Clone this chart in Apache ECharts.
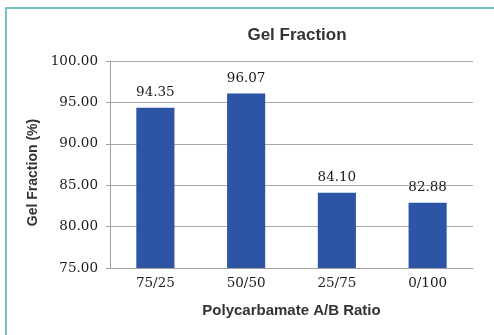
<!DOCTYPE html>
<html>
<head>
<meta charset="utf-8">
<script src="https://cdn.jsdelivr.net/npm/echarts@6/dist/echarts.min.js"></script>
<style>
  html, body { margin: 0; padding: 0; background: #fff; }
  #chart { width: 494px; height: 335px; }
</style>
</head>
<body>
<div id="chart"></div>
<script>
// Gel fraction by polycarbamate blend ratio
const ratios = ['75/25', '50/50', '25/75', '0/100'];
const gelFraction = [94.35, 96.07, 84.10, 82.88];

const serif = 'DejaVu Serif';
const sans = 'Liberation Sans';

const chart = echarts.init(document.getElementById('chart'), null, { renderer: 'canvas' });
chart.setOption({
  animation: false,
  backgroundColor: '#ffffff',
  title: {
    text: 'Gel Fraction',
    left: 292,
    textAlign: 'center',
    top: 22,
    textStyle: { fontFamily: sans, fontWeight: 'bold', fontSize: 17, color: '#333333' }
  },
  graphic: [{
    type: 'rect',
    shape: { x: 6, y: 8, width: 600, height: 400 },
    style: { fill: 'none', stroke: '#74C2C2', lineWidth: 2 },
    silent: true
  }],
  grid: { left: 110, right: 21, top: 61, bottom: 67 },
  xAxis: {
    type: 'category',
    data: ratios,
    name: 'Polycarbamate A/B Ratio',
    nameLocation: 'middle',
    nameGap: 35,
    nameTextStyle: { fontFamily: sans, fontWeight: 'bold', fontSize: 15, color: '#333333' },
    axisLine: { lineStyle: { color: '#A0A0A0', width: 1 } },
    axisTick: { show: false },
    axisLabel: { margin: 8, fontFamily: serif, fontSize: 13.5, color: '#1a1a1a' }
  },
  yAxis: {
    type: 'value',
    min: 75,
    max: 100,
    interval: 5,
    name: 'Gel Fraction (%)',
    nameLocation: 'middle',
    nameGap: 64,
    nameTextStyle: { fontFamily: sans, fontWeight: 'bold', fontSize: 14, color: '#333333', padding: [0, 16, 0, 0] },
    axisLine: { show: true, lineStyle: { color: '#A0A0A0', width: 1 } },
    axisTick: { show: true, inside: false, length: 4, lineStyle: { color: '#A0A0A0' } },
    splitLine: { lineStyle: { color: '#A8A8A8', width: 1 } },
    axisLabel: {
      margin: 12,
      fontFamily: serif,
      fontSize: 13.5,
      color: '#1a1a1a',
      formatter: v => v.toFixed(2)
    }
  },
  series: [{
    type: 'bar',
    data: gelFraction,
    barWidth: '42%',
    itemStyle: { color: '#2E54A6' },
    label: {
      show: true,
      position: 'top',
      distance: 8,
      fontFamily: serif,
      fontSize: 13.5,
      color: '#1a1a1a',
      formatter: p => p.value.toFixed(2)
    }
  }]
});
</script>
</body>
</html>
